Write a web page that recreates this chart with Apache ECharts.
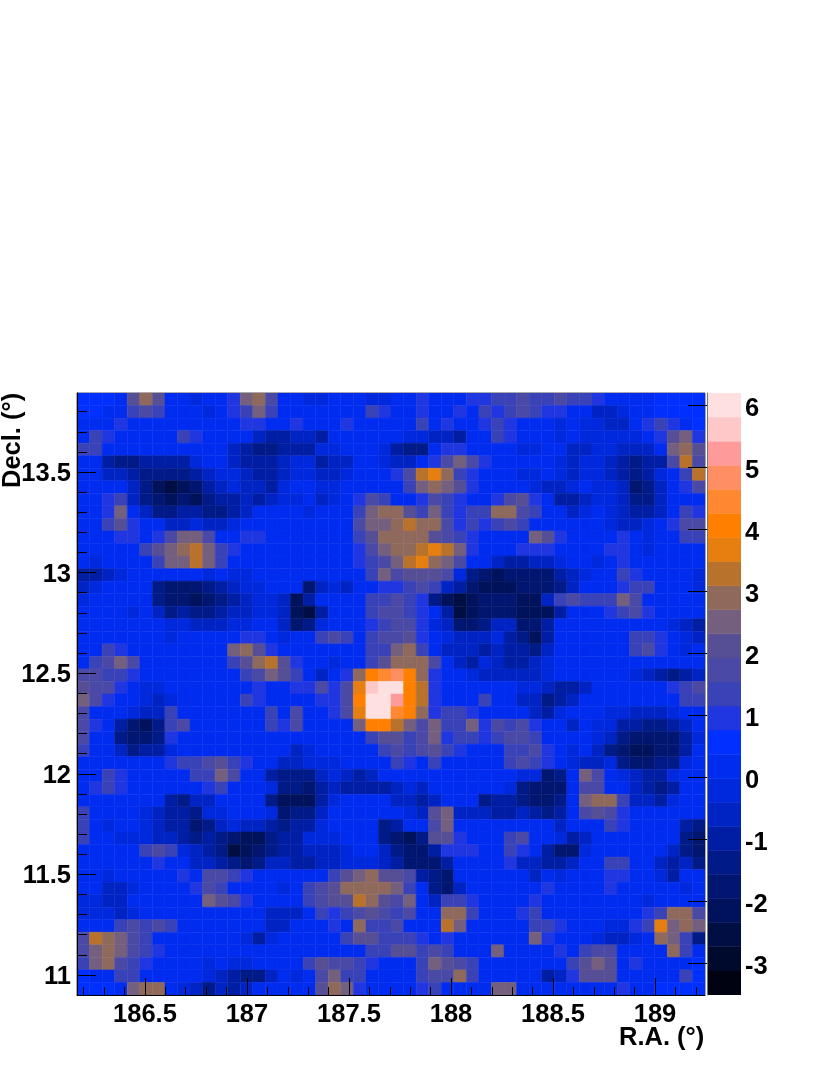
<!DOCTYPE html>
<html>
<head>
<meta charset="utf-8">
<style>
  html, body { margin: 0; padding: 0; background: #fff; }
  #main { width: 830px; height: 1075px; }
</style>
<script src="https://cdn.jsdelivr.net/npm/echarts@6/dist/echarts.min.js"></script>
</head>
<body>
<div id="main"></div>
<script>
// sky range of the map, in degrees
const raRange = [186.167, 189.245];
const decRange = [10.9, 13.893];

const raMajorTicks = [186.5, 187, 187.5, 188, 188.5, 189];
const raMinorTicks = [186.2, 186.3, 186.4, 186.6, 186.7, 186.8, 186.9, 187.1, 187.2, 187.3, 187.4, 187.6, 187.7, 187.8, 187.9, 188.1, 188.2, 188.3, 188.4, 188.6, 188.7, 188.8, 188.9, 189.1, 189.2];
const decMajorTicks = [11, 11.5, 12, 12.5, 13, 13.5];
const decMinorTicks = [10.9, 11.1, 11.2, 11.3, 11.4, 11.6, 11.7, 11.8, 11.9, 12.1, 12.2, 12.3, 12.4, 12.6, 12.7, 12.8, 12.9, 13.1, 13.2, 13.3, 13.4, 13.6, 13.7, 13.8];
const zTicks = [-3, -2, -1, 0, 1, 2, 3, 4, 5, 6];

// colour bar range and one colour per contour band, darkest first
const zRange = [-3.52, 6.19];
const bandColors = ['#000212', '#000a2c', '#000e44', '#00125c', '#001670', '#001a88', '#001ea4', '#0024c4', '#0028dc', '#002cf0', '#0030ff', '#2036e0', '#3a42b8', '#4a4aa6', '#574f96', '#74607e', '#8f6a5c', '#b8722c', '#e67e10', '#ff8000', '#ff8830', '#ff8e62', '#ff9a9a', '#ffc8c8', '#ffe0e0'];

// significance, one letter per cell (a = -3.31 ... y = 6.0)
const levelLetters = 'abcdefghijklmnopqrstuvwxy';
const levelValues = [-3.31, -2.93, -2.54, -2.15, -1.76, -1.38, -0.99, -0.6, -0.21, 0.17, 0.56, 0.95, 1.34, 1.73, 2.12, 2.5, 2.9, 3.3, 3.67, 4.06, 4.45, 4.84, 5.2, 5.6, 6.0];

// top row first, left column first
const sigRows = [
  'kkkjoqojji jjlpqnjjii jjjiijjljj jllmmnmmnm mljjjjkkkk',
  'kkjjmnmjjj ijlmpmjjjj jjjmljjljj ljmlmnmllj jhhijjkkkk',
  'jjjljjjjjj jjjlljjljj jljjjjjmjl jjlmljjjij iihhjlmljk',
  'jmljjjjjml jjjjhgghhg jjjjjjiihh gjjmljjjij iiiiijlopl',
  'mmjjjjjjjj jjhgffgggi ijjjigffjl ljjjjiijjh hiihhhjpqo',
  'jjgffggggi jjhggghiig hhjjihhjln pnljjjjjih iihgfggnrn',
  'jjhhgffffg hiihgghiih hijjjlnrsq mljjjiijih iihgfgijmr',
  'jjjjhfdcde ghihhgijji ijjjjjmpqp oljjjjihhi jiihefhjln',
  'jjlmhfeded fgghghiijh ijlnmjjlnm ljjlnoljgg hiihffhjjj',
  'jjlpjhffgg ffghjjjjij jjmpqqompm lmmqqnmjjh ijihgghjml',
  'jjmoljjhhi hhijjjjjjj jjnppqrqqn lmlmnmjjjj jjihhijlnn',
  'jjjlljlnpp njjlljjjjj jjmoqqqqon mljjjjpolj jjjljijjmm',
  'jjjjjmopqr pmljjjjjjj jjlnpqqrsr pljjjllljj jjlljijjjj',
  'jijjjjmppr pmjjjjjjjj jjlmnprsqp njjhgghhij jijljjjjjj',
  'gghijjjjjj ijiijjjjjj jjjmpnooon ifedeeeegh ijjmljjjji',
  'hijjjjfeee fghiijjjeh ihjjllmnmh gedddeeefh jjjlmmjjji',
  'ijjjjjfeed efghiihdgj jjjmmnmlfd cdeeeddhmn mmmpnjjjjj',
  'jjjjijhfgf fghhiihdcg jjjmnnmljg cdeeedddgj jjlmnljjjj',
  'jjjjjjjiih hhiijjhefi jjjlmnnlih eefhheegjj jjjjjjjihg',
  'jjjjjjjijj jjjlljijjm nmjmnnolji hhhigfdgjj jjjjmmljih',
  'jjmljjjjjj jjpqoljjjj jjjmmpqmjh hhghggfhjj jjjjmnljij',
  'jmnpnjjjjj jjmoqroljj ijjmoqqqnj hgihgghijj jjjjjjjjjj',
  'nnmmljjjjj jjjmnpomjh jlqtuvtqlj jihhhhhijj jjjjihgfgh',
  'onnljiijjj jjjjljjlln lnsxyytrlj jjjjjiihgg hjjjjjjlmn',
  'pnljjihijj jjjmljjjjl lntyywtrlj jjmjjhhfgh jjjjjjjjmm',
  'njjjihhmjj jjjjjmjnjj lnsyyutqlm mljjjjhgij jjiihhhijj',
  'nljgedfmnj jjjjjmlnjj jjpttrpnpm mplnmnljjh jiiggffghj',
  'njjfeefljj jjjjjjjjjj jjjmoomnpl mmlmnnmjjj jihfeeeegi',
  'mjjhfggijj jjjjjjjhij jjjjmnmnom ljjjmmnlji jhfeddeegj',
  'jjjjjjjlmm nomljjhhii ijjjjmljmj jjjjmnmlji hhifeeffij',
  'jjmljjjjjm mpnjjgfffh ihghjjjjjj jjjjjiiefj pnjihggijj',
  'jlmljjjjjj lmjjjiffeg hgggghihjj jjjjifeeej nnjjhgfgjj',
  'jjjjjjjgfh hjjjjfdddg ijjjjhhghj jjfggfeefj pqqmhhgijj',
  'mjjjjihggf iijjjieffh jjjjjjihop hhhgghgfgj nonljjjjjj',
  'mjijjihgge fhihhgfggi jjjjfgjjnp jjjjjjjjhj jjmljjjjgf',
  'mjjiiihhgf gfeddfggii ijjjfedfoo ljjjmnjjig hjjjjjjjfe',
  'jjjjjmnmih gfcdefgghh hijjhfeegl lljjmljgee ijjjjjjhfe',
  'jjjjjjljjh hgfefhhggh hiiihgeeeg jjjjlhhggh jjmmjjhghf',
  'jjijjjjjlj nnmljjjjjj mopqoongfe jjjjjjhjij jjlljjigjj',
  'jjhhijjjjl nmjjjjijmn oqqqqpmjfe hjjjjjjljj jjljjjjjij',
  'iihhjjjjjj ponljjjjmn oorqonpjhm mljjjjljjj jjjjjijjjj',
  'iiihijjjjj jjjjjhhhjm lmnonmnjjq qmjjjlmjjj jjjjjlmqqn',
  'jjjmnmnmjj jjjjjhhjjj ljqmmnjjjr pjjjjjmmlj jjiilmspqp',
  'nrqpnmjjjj jjjigijjjj jmoommmljl jjjjjjpljj jihhijqpmf',
  'npqpnmljjj jjjjjjjjjj jjjmmoomnm jjjpjjjjlj mnnjjjjqmj',
  'mpqnmljjjj ijiijjjjmo nnmljjjmpo nmjjjjjjjm opojljjjjk',
  'kjjmmjjjjj ihgffhjijn pmmjjjjmnn qmjjjjjghl ooojjjjjmk',
  'kkkjpqqjih fhghjjjjjo qpljjjjlmj jjjppjjjjj jjjljjkkkk'
];

const labelFont = 'Liberation Sans';
const labelSize = 25.5;

function bandColor(v) {
  const n = bandColors.length;
  const i = Math.floor((v - zRange[0]) / (zRange[1] - zRange[0]) * n);
  return bandColors[Math.max(0, Math.min(n - 1, i))];
}

// [ra low, ra high, dec low, dec high, value] for each cell
const cells = [];
sigRows.forEach((row, r) => {
  const letters = row.replace(/ /g, '');
  const dx = (raRange[1] - raRange[0]) / letters.length;
  const dy = (decRange[1] - decRange[0]) / sigRows.length;
  for (let c = 0; c < letters.length; c++) {
    const x0 = raRange[0] + c * dx;
    const y1 = decRange[1] - r * dy;
    cells.push([x0, x0 + dx, y1 - dy, y1, levelValues[levelLetters.indexOf(letters[c])]]);
  }
});

// colour bar is one rect per band
const zStep = (zRange[1] - zRange[0]) / bandColors.length;
const bands = bandColors.map((col, i) => [0, 1, zRange[0] + i * zStep, zRange[0] + (i + 1) * zStep, zRange[0] + (i + 0.5) * zStep]);

function renderCell(params, api) {
  const p0 = api.coord([api.value(0), api.value(3)]);
  const p1 = api.coord([api.value(1), api.value(2)]);
  const color = bandColor(api.value(4));
  return {
    type: 'rect',
    shape: { x: p0[0], y: p0[1], width: p1[0] - p0[0], height: p1[1] - p0[1] },
    style: { fill: color, stroke: color, lineWidth: 0.5 }
  };
}

const tickLabel = { fontFamily: labelFont, fontWeight: 'bold', fontSize: labelSize, color: '#000' };
const blackLine = { color: '#000', width: 1 };

// labels sit a little below their tick in the original, a taller line pushes them down
function loweredLabel(lineHeight) {
  return {
    formatter: v => '{a|' + v + '}',
    rich: { a: Object.assign({ lineHeight: lineHeight, verticalAlign: 'bottom' }, tickLabel) }
  };
}

const myChart = echarts.init(document.getElementById('main'), null, { renderer: 'canvas' });
const option = {
  animation: false,
  backgroundColor: '#fff',
  grid: [
    { left: 77, top: 393, width: 628, height: 602, show: true, borderColor: '#555', borderWidth: 1 },
    { left: 707, top: 393, width: 34, height: 602 }
  ],
  xAxis: [
    {
      type: 'value', gridIndex: 0, position: 'bottom', min: raRange[0], max: raRange[1], z: 5,
      splitLine: { show: false },
      axisLine: { lineStyle: blackLine },
      axisTick: { inside: true, length: 17, lineStyle: blackLine, customValues: raMajorTicks },
      axisLabel: Object.assign({ margin: 7, customValues: raMajorTicks }, tickLabel)
    },
    {
      type: 'value', gridIndex: 0, position: 'bottom', min: raRange[0], max: raRange[1], z: 5,
      splitLine: { show: false }, axisLine: { show: false }, axisLabel: { show: false },
      axisTick: { inside: true, length: 8, lineStyle: blackLine, customValues: raMinorTicks }
    },
    { type: 'value', gridIndex: 1, min: 0, max: 1, show: false }
  ],
  yAxis: [
    {
      type: 'value', gridIndex: 0, position: 'left', min: decRange[0], max: decRange[1], z: 5,
      splitLine: { show: false },
      axisLine: { lineStyle: blackLine },
      axisTick: { inside: true, length: 19, lineStyle: blackLine, customValues: decMajorTicks },
      axisLabel: Object.assign({ margin: 6, customValues: decMajorTicks }, loweredLabel(30))
    },
    {
      type: 'value', gridIndex: 0, position: 'left', min: decRange[0], max: decRange[1], z: 5,
      splitLine: { show: false }, axisLine: { show: false }, axisLabel: { show: false },
      axisTick: { inside: true, length: 10, lineStyle: blackLine, customValues: decMinorTicks }
    },
    {
      type: 'value', gridIndex: 1, min: zRange[0], max: zRange[1], position: 'right', z: 5,
      splitLine: { show: false },
      axisLine: { show: true, lineStyle: { color: '#777', width: 1 } },
      axisTick: { inside: true, length: 19, lineStyle: { color: '#000', width: 1 }, customValues: zTicks },
      axisLabel: Object.assign({ margin: 4, customValues: zTicks }, loweredLabel(34))
    }
  ],
  series: [
    { type: 'custom', xAxisIndex: 0, yAxisIndex: 0, z: 2, clip: true, silent: true, encode: { x: [0, 1], y: [2, 3] }, renderItem: renderCell, data: cells },
    { type: 'custom', xAxisIndex: 2, yAxisIndex: 2, z: 2, clip: true, silent: true, encode: { x: [0, 1], y: [2, 3] }, renderItem: renderCell, data: bands }
  ],
  graphic: [
    { type: 'text', left: 619, top: 1025, style: { text: 'R.A. (°)', font: 'bold 25.5px "Liberation Sans"', fill: '#000' } },
    { type: 'text', x: 0, y: 488, rotation: Math.PI / 2, style: { text: 'Decl. (°)', font: 'bold 25.5px "Liberation Sans"', fill: '#000' } }
  ]
};
myChart.setOption(option);
</script>
</body>
</html>
